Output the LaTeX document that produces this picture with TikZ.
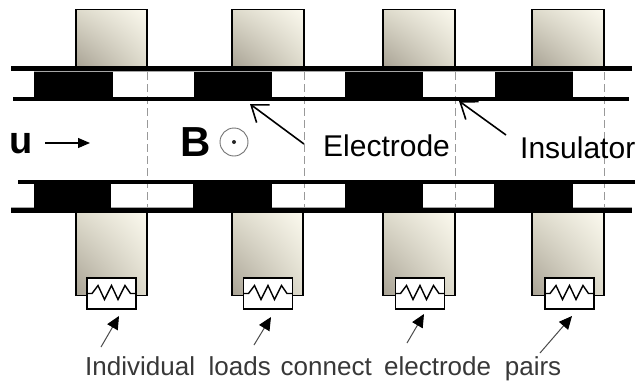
\documentclass[tikz,border=0pt]{standalone}
\usepackage{fontspec}
\setmainfont{Liberation Sans}
\usetikzlibrary{arrows.meta,shadings}
\definecolor{darkbox}{HTML}{A8A294}
\definecolor{midbox}{HTML}{DEDBCC}
\definecolor{lightbox}{HTML}{FBF9EE}
\tikzset{
  x=1pt,y=-1pt,
  chan/.style={line width=5pt,black,line cap=butt},
  thinchan/.style={line width=4pt,black,line cap=butt},
  grayline/.style={line width=1pt,black!35},
  elec/.style={fill=black,draw=none},
  gen/.style={lower left=darkbox,upper right=lightbox,upper left=midbox,lower right=midbox},
  genedge/.style={line width=1.6pt,black,line join=miter},
  seam/.style={line width=0.9pt,black!40,dash pattern=on 8pt off 4pt},
  call/.style={line width=1.6pt,black,-{Straight Barb[length=15pt,width=22pt,line width=1.6pt]}},
  loadcall/.style={line width=1pt,black!70,-{Triangle[length=13pt,width=12pt,black]}},
  ucall/.style={line width=1.1pt,black,-{Triangle[length=12pt,width=10pt]}},
  loadbox/.style={draw=black,line width=1.4pt,fill=white,minimum width=49pt,minimum height=31pt,inner sep=0pt},
  lab/.style={inner sep=0pt,font=\fontsize{30}{30}\selectfont}
}
\begin{document}
\begin{tikzpicture}
\useasboundingbox (0,0) rectangle (638,386);
\fill[white] (0,0) rectangle (638,386);
% seams
\foreach \x in {147,304,455,604} \draw[seam] (\x,72) -- (\x,208);
% top generator boxes
\foreach \a/\b in {76/147,232/304,383/455,532/604}{
  \shade[gen] (\a,9) rectangle (\b,67);
  \draw[genedge] (\a,67) -- (\a,9.5) -- (\b,9.5) -- (\b,67);
}
% top channel
\draw[chan] (11,68.5) -- (632,68.5);
\draw[grayline] (34,71.5) -- (573,71.5);
\foreach \a/\b in {34/113,194/272,345/423,495/573} \fill[elec] (\a,71.5) rectangle (\b,97);
\draw[thinchan] (13,99) -- (629,99);
% bottom channel
\draw[thinchan] (18,182) -- (635,182);
\draw[grayline] (11,207.5) -- (632,207.5);
\foreach \a/\b in {34/111,193/272,345/423,494/573} \fill[elec] (\a,184) rectangle (\b,209);
\draw[chan] (11,210.5) -- (632,210.5);
% bottom generator boxes
\foreach \a/\b in {76/147,232/303,383/455,532/604}{
  \shade[gen] (\a,213) rectangle (\b,295);
  \draw[genedge] (\a,213) -- (\a,295.5) -- (\b,295.5) -- (\b,213);
}
% loads
\foreach \n/\c in {1/111.5,2/268,3/420,4/569.5}{
  \node[loadbox] (load\n) at (\c,293.5) {};
  \draw[line width=1.4pt,black,line join=miter]
    ([xshift=-24.5pt]load\n.center) -- ++(5,0) -- ++(6,-8) -- ++(6.5,14) -- ++(7,-14) -- ++(6.5,14) -- ++(7,-14) -- ++(5.5,8) -- ([xshift=24.5pt]load\n.center);
}
% labels
\node[inner sep=0pt,font=\bfseries\fontsize{38}{38}\selectfont] (u) at (21,144) {u};
\coordinate (uend) at (90,143);
\coordinate (ustart) at (45,143);
\draw[ucall] (ustart) -- (uend);
\node[inner sep=0pt,font=\bfseries\fontsize{42}{42}\selectfont] (B) at (196,142) {B};
\node[circle,draw=black!55,line width=0.9pt,minimum size=28pt,inner sep=0pt] (Bcirc) at (234,142) {};
\fill[black!85] (Bcirc.center) circle (2pt);
\node[lab,anchor=west] (electrode) at (323,146) {Electrode};
\node[lab,anchor=west] (insulator) at (520,148) {Insulator};
\coordinate (etail) at (304,144);
\coordinate (ehead) at (250,104);
\draw[call] (etail) -- (ehead);
\coordinate (itail) at (506,135);
\coordinate (ihead) at (459,101);
\draw[call] (itail) -- (ihead);
% load pointers
\foreach \n/\xa/\ya/\xb/\yb in {1/101/347/119/316,2/254/345/271/317,3/407/343/424/314,4/540/353/572/316}{
  \coordinate (lt\n) at (\xa,\ya);
  \coordinate (lh\n) at (\xb,\yb);
  \draw[loadcall] (lt\n) -- (lh\n);
}
\node[inner sep=0pt,anchor=west,text=black!78,font=\fontsize{26}{26}\selectfont] (caption) at (85,369) {Individual\hspace{.25em} loads\hspace{.1em} connect\hspace{.2em} electrode\hspace{.25em} pairs};
\end{tikzpicture}
\end{document}
